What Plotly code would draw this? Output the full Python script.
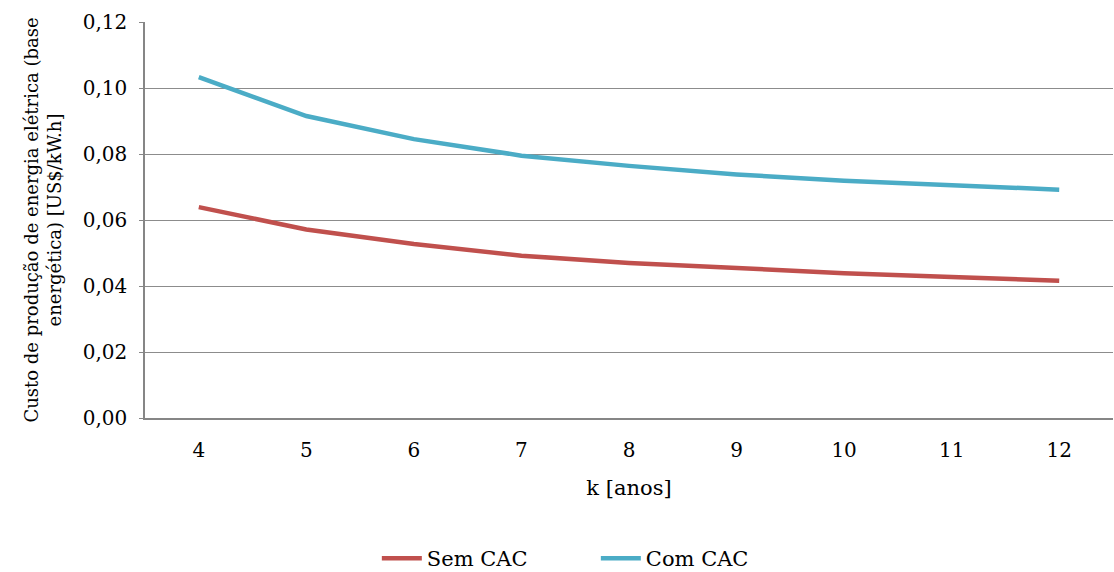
import plotly.graph_objects as go

# Cost of electricity production vs. k (years)
k_anos = ["4", "5", "6", "7", "8", "9", "10", "11", "12"]
sem_cac = [0.0639, 0.0571, 0.0527, 0.0492, 0.0470, 0.0453, 0.0439, 0.0427, 0.0416]
com_cac = [0.1033, 0.0915, 0.0845, 0.0795, 0.0764, 0.0738, 0.0719, 0.0705, 0.0692]
y_ticks = [0.00, 0.02, 0.04, 0.06, 0.08, 0.10, 0.12]
y_tick_labels = ["0,00", "0,02", "0,04", "0,06", "0,08", "0,10", "0,12"]

FONT = "DejaVu Serif"
FS = 20

fig = go.Figure()
fig.add_trace(go.Scatter(x=k_anos, y=sem_cac, mode="lines", name="Sem CAC",
                         line=dict(color="#C0504D", width=4.5)))
fig.add_trace(go.Scatter(x=k_anos, y=com_cac, mode="lines", name="Com CAC",
                         line=dict(color="#4BACC6", width=4.5)))

fig.update_layout(
    width=1114, height=572,
    margin=dict(l=145, r=1, t=22, b=154, autoexpand=False),
    paper_bgcolor="white", plot_bgcolor="white",
    font=dict(family=FONT, size=FS, color="#000000"),
    showlegend=True,
    legend=dict(orientation="h", x=0.2395, xanchor="left", y=-0.355, yanchor="middle",
                font=dict(family=FONT, size=21), itemwidth=40, tracegroupgap=0,
                entrywidth=164, entrywidthmode="pixels"),
    xaxis=dict(type="category", range=[-0.5, 8.5], showgrid=False, showline=True,
               automargin=False,
               linecolor="#868686", linewidth=1.5, ticks="", ticklabelstandoff=13,
               tickfont=dict(family=FONT, size=FS),
               title=dict(text="k [anos]", font=dict(family=FONT, size=21), standoff=20)),
    yaxis=dict(range=[0, 0.12], tickvals=y_ticks, ticktext=y_tick_labels,
               automargin=False,
               showgrid=True, gridcolor="#8c8c8c", gridwidth=1.3,
               showline=True, linecolor="#868686", linewidth=1.5,
               ticks="outside", ticklen=4, tickcolor="#868686", zeroline=False,
               ticklabelstandoff=8, tickfont=dict(family=FONT, size=FS),
               title=dict(text="Custo de produção de energia elétrica (base<br>energética) [US$/kW.h]",
                          font=dict(family=FONT, size=18), standoff=16)),
)

fig.write_html("out.html")
